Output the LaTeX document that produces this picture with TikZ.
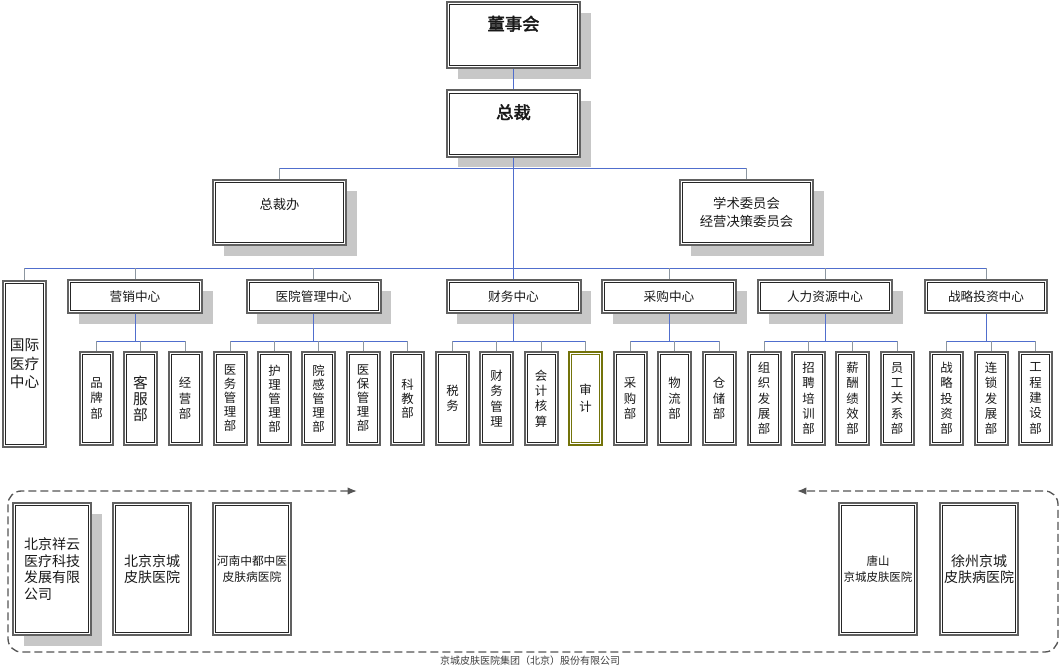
\documentclass[tikz,border=0pt]{standalone}
\usepackage{fontspec}
\setmainfont{Noto Sans CJK SC}[AutoFakeBold=2.5]
\usepackage{tikz}
\usetikzlibrary{arrows,arrows.meta,shadows}
\definecolor{linkblue}{RGB}{80,110,205}
\definecolor{linkgray}{RGB}{140,150,160}
\definecolor{framegray}{RGB}{85,85,85}
\definecolor{audit}{RGB}{115,115,10}
\tikzset{
  box/.style={draw=black!62, line width=1.5pt, fill=white, inner sep=1pt,
    align=center, text=black!90,
    path picture={\draw[#1, line width=0.5pt]
      ([shift={(1.9pt,1.9pt)}]path picture bounding box.south west) rectangle
      ([shift={(-1.9pt,-1.9pt)}]path picture bounding box.north east);}},
  box/.default=black!85,
  boxshadow/.style={drop shadow={shadow xshift=8pt, shadow yshift=-8pt, fill=black!22, opacity=1}},
  headbox/.style={box, boxshadow, minimum width=99.75pt, minimum height=49.5pt,
    font=\bfseries\fontsize{13}{15}\selectfont, text height=10pt, text depth=17pt},
  officebox/.style={box, boxshadow, minimum width=99.75pt, minimum height=48.75pt,
    font=\fontsize{10}{14}\selectfont},
  hubbox/.style={box, minimum width=100.5pt, minimum height=24.75pt,
    font=\fontsize{9.5}{11}\selectfont},
  deptbox/.style={box, minimum width=24.75pt, minimum height=69.75pt,
    font=\fontsize{9.3}{11.5}\selectfont},
  unitbox/.style={box, minimum width=58.5pt, minimum height=99pt,
    font=\fontsize{10.5}{12.5}\selectfont},
  trunk/.style={draw=linkblue, line width=0.6pt},
  stem/.style={draw=linkgray, line width=0.6pt},
  frameline/.style={draw=framegray, line width=1pt, dash pattern=on 6pt off 3pt,
    rounded corners=10pt}
}
\begin{document}
\begin{tikzpicture}[x=0.75pt,y=-0.75pt]
\useasboundingbox (0,0) rectangle (1060,667);
% top of the chart
\node[headbox] (dsh) at (513.5,35) {董事会};
\node[headbox] (zc) at (513.5,123.5) {总裁};
\node[officebox, text height=8pt, text depth=13pt] (zcb) at (279.5,212.5) {总裁办};
\node[officebox] (xs) at (746.5,212.5) {学术委员会\\经营决策委员会};

% centres
\node[box, minimum width=32.25pt, minimum height=124.5pt, font=\fontsize{11}{14}\selectfont]
  (gj) at (24.5,364) {国际\\医疗\\中心};
\node[hubbox, boxshadow] (yx) at (135,296.5) {营销中心};
\node[hubbox, boxshadow] (yy) at (313.5,296.5) {医院管理中心};
\node[hubbox, boxshadow] (cw) at (513.5,296.5) {财务中心};
\node[hubbox, boxshadow] (cg) at (669,296.5) {采购中心};
\node[hubbox, boxshadow] (rl) at (825,296.5) {人力资源中心};
\node[hubbox, minimum width=91.5pt] (zl) at (986,296.5) {战略投资中心};

% departments
\foreach \n/\x/\t in {pp/96.5/品\\牌\\部, jy/185/经\\营\\部}
  \node[deptbox] (\n) at (\x,398.5) {\t};
\node[deptbox, font=\fontsize{11}{12}\selectfont] (kf) at (140.5,398.5) {客\\服\\部};
\foreach \n/\x/\t in {yw/230/医\\务\\管\\理\\部, hl/274.5/护\\理\\管\\理\\部,
    yg/318.5/院\\感\\管\\理\\部, yb/363/医\\保\\管\\理\\部, kj/407.5/科\\教\\部}
  \node[deptbox, font=\fontsize{9.3}{10.5}\selectfont] (\n) at (\x,398.5) {\t};
\foreach \n/\x/\t in {sw/452.5/税\\务, cwg/496.5/财\\务\\管\\理, kh/541/会\\计\\核\\算}
  \node[deptbox] (\n) at (\x,398.5) {\t};
\node[deptbox, box=audit, draw=audit, font=\fontsize{9.3}{13}\selectfont] (sj) at (585.5,398.5) {审\\计};
\foreach \n/\x/\t in {cgb/630/采\\购\\部, wl/674.5/物\\流\\部, cc/719/仓\\储\\部,
    zz/764/组\\织\\发\\展\\部, zp/808.5/招\\聘\\培\\训\\部,
    xc/852.5/薪\\酬\\绩\\效\\部, yggx/897/员\\工\\关\\系\\部,
    zltz/946.5/战\\略\\投\\资\\部, ls/991/连\\锁\\发\\展\\部, gc/1035.5/工\\程\\建\\设\\部}
  \node[deptbox] (\n) at (\x,398.5) {\t};

% connectors
\coordinate (b1) at (0,168);
\coordinate (b2) at (0,268);
\coordinate (b3) at (0,341);
\draw[trunk] (dsh.south) -- (zc.north);
\draw[trunk] (zc.south) -- (cw.north);
\draw[trunk] (zcb.north |- b1) -- (xs.north |- b1);
\foreach \n in {zcb,xs}
  \draw[stem] (\n.north) -- (\n.north |- b1);
\draw[trunk] (gj.north |- b2) -- (zl.north |- b2);
\foreach \n in {gj,yx,yy,cg,rl,zl}
  \draw[stem] (\n.north) -- (\n.north |- b2);
\foreach \c/\a/\b in {yx/pp/jy, yy/yw/kj, cw/sw/sj, cg/cgb/cc, rl/zz/yggx, zl/zltz/gc}{
  \draw[trunk] (\a.north |- b3) -- (\b.north |- b3);
  \draw[trunk] (\c.south) -- (\c.south |- b3);
}
\foreach \n in {pp,kf,jy,yw,hl,yg,yb,kj,sw,cwg,kh,sj,cgb,wl,cc,zz,zp,xc,yggx,zltz,ls,gc}
  \draw[stem] (\n.north) -- (\n.north |- b3);

% member companies
\draw[frameline, {Latex[length=7pt,width=5.5pt]}-{Latex[length=7pt,width=5.5pt]}]
  (357,491) -- (8,491) -- (8,652) -- (1058,652) -- (1058,491) -- (797,491);
\node[unitbox, boxshadow, align=left] (xy) at (52,569) {北京祥云\\医疗科技\\发展有限\\公司};
\node[unitbox] (jc) at (152,569) {北京京城\\皮肤医院};
\node[unitbox, font=\fontsize{8.8}{12}\selectfont] (hn) at (252,569) {河南中都中医\\皮肤病医院};
\node[unitbox, font=\fontsize{8.6}{12}\selectfont] (ts) at (878,569) {唐山\\京城皮肤医院};
\node[unitbox] (xz) at (979,569) {徐州京城\\皮肤病医院};
\node[font=\fontsize{7.5}{9}\selectfont, text=black!75] (cap) at (530,661)
  {京城皮肤医院集团（北京）股份有限公司};
\end{tikzpicture}
\end{document}
